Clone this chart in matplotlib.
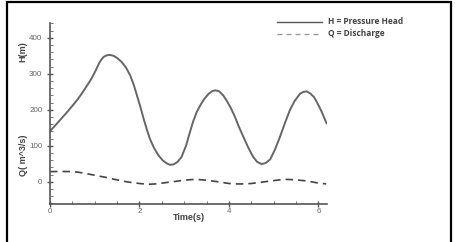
import matplotlib
matplotlib.use("Agg")
import matplotlib.pyplot as plt
from matplotlib.lines import Line2D
from matplotlib.patches import Rectangle
from matplotlib.ticker import MultipleLocator

# Pressure head H (m) vs time (s)
h_time = [0.0, 0.1, 0.2, 0.3, 0.4, 0.5, 0.6, 0.7, 0.8, 0.9, 0.95, 1.0, 1.05, 1.1, 1.15,
          1.2, 1.27, 1.34, 1.42, 1.5, 1.6, 1.7, 1.79, 1.87, 1.94, 2.02, 2.09, 2.16, 2.23,
          2.32, 2.42, 2.52, 2.61, 2.68, 2.76, 2.85, 2.94, 3.04, 3.13, 3.2, 3.28, 3.37,
          3.46, 3.55, 3.63, 3.7, 3.78, 3.87, 3.95, 4.04, 4.13, 4.22, 4.32, 4.43, 4.54,
          4.63, 4.73, 4.82, 4.92, 5.03, 5.14, 5.25, 5.36, 5.47, 5.59, 5.67, 5.74, 5.82,
          5.9, 5.96, 6.07, 6.18]
h_values = [141, 154, 168, 182, 196, 211, 226, 243, 262, 281, 292, 304, 317, 330, 340,
            347, 351.5, 352.5, 350, 344, 333, 317, 296, 270, 241, 208, 176, 147, 120,
            95, 74, 59, 51, 47, 48, 55, 69, 100, 139, 168, 194, 215,
            232, 245, 252, 254, 251, 240, 225, 205, 181, 153, 125, 95, 69,
            55, 49, 52, 62, 90, 125, 163, 199, 225, 245, 250, 251, 245,
            235, 222, 195, 162]

# Discharge Q (m^3/s) vs time (s)
q_time = [0.0, 0.25, 0.5, 0.62, 0.75, 0.87, 1.0, 1.12, 1.25, 1.37, 1.5, 1.62, 1.75,
          1.87, 2.0, 2.12, 2.24, 2.37, 2.5, 2.62, 2.75, 2.87, 3.0, 3.12, 3.25, 3.37,
          3.5, 3.62, 3.75, 3.87, 4.0, 4.12, 4.25, 4.37, 4.5, 4.62, 4.75, 4.87, 5.0,
          5.12, 5.25, 5.37, 5.5, 5.62, 5.75, 5.87, 6.0, 6.17]
q_values = [28, 28.5, 28, 26.5, 24, 21, 18, 15, 12, 8.5, 5, 2, -1,
            -3, -5, -6.5, -7, -6, -4, -2, 0, 2, 4, 5.5, 6.5, 5.5,
            4, 2, 0, -2.5, -5, -6, -6.3, -6, -5, -3, -1, 1, 3,
            5, 6.5, 6, 5, 3.5, 2, -1, -4, -6]

x_ticks = [0, 2, 4, 6]
y_ticks = [0, 100, 200, 300, 400]
legend_labels = ["H = Pressure Head", "Q = Discharge"]

W, H = 457, 242
fig = plt.figure(figsize=(W / 100, H / 100), dpi=100)
fig.patch.set_facecolor("white")

ax = fig.add_axes([50 / W, 1 - 204 / H, 277 / W, (204 - 22.7) / H])
ax.plot(h_time, h_values, color="#666666", lw=1.4, solid_capstyle="round",
        solid_joinstyle="round")
ax.plot(q_time, q_values, color="#444444", lw=1.2, dashes=(4.5, 3))

ax.set_xlim(0, 6.19)
ax.set_ylim(-62, 442)
ax.set_xticks(x_ticks)
ax.set_yticks(y_ticks)
ax.xaxis.set_minor_locator(MultipleLocator(0.5))
ax.yaxis.set_minor_locator(MultipleLocator(20))
for s in ["top", "right"]:
    ax.spines[s].set_visible(False)
for s in ["left", "bottom"]:
    ax.spines[s].set_color("#555555")
    ax.spines[s].set_linewidth(1.2)
ax.tick_params(axis="both", which="major", direction="inout", length=5, width=1,
               colors="#555555", labelsize=5.8, labelcolor="#666666")
ax.tick_params(axis="both", which="minor", direction="in", length=2.5, width=0.7,
               colors="#777777")
ax.tick_params(axis="x", pad=0.5)
ax.tick_params(axis="y", pad=3)
for lab in ax.get_xticklabels() + ax.get_yticklabels():
    lab.set_family(["Liberation Sans", "DejaVu Sans"])

ax_font = dict(family=["Liberation Sans", "DejaVu Sans"], fontweight="bold", color="#444444")
leg_font = dict(family=["Open Sans", "DejaVu Sans"], fontweight="bold", color="#444444")
fig.text(23 / W, 1 - 52 / H, "H(m)", rotation=90, ha="center", va="center", fontsize=6.5, **ax_font)
fig.text(23 / W, 1 - 155 / H, "Q( m^3/s)", rotation=90, ha="center", va="center", fontsize=6.5, **ax_font)
fig.text(189 / W, 1 - 217 / H, "Time(s)", ha="center", va="center", fontsize=6.5, **ax_font)

# legend
fig.add_artist(Line2D([277 / W, 322 / W], [1 - 22 / H, 1 - 22 / H], color="#555555", lw=1.0))
fig.add_artist(Line2D([277 / W, 322 / W], [1 - 34 / H, 1 - 34 / H], color="#999999", lw=1.0,
                      dashes=(3.5, 3)))
fig.text(328 / W, 1 - 22 / H, legend_labels[0], ha="left", va="center", fontsize=6, **leg_font)
fig.text(328 / W, 1 - 34 / H, legend_labels[1], ha="left", va="center", fontsize=6, **leg_font)

# outer frame
fig.add_artist(Rectangle((7 / W, -0.1), 444 / W, 1.1 - 2 / H, transform=fig.transFigure,
                         fill=False, edgecolor="black", lw=1.6, clip_on=False))

fig.savefig("out.png", dpi=100, facecolor="white")
